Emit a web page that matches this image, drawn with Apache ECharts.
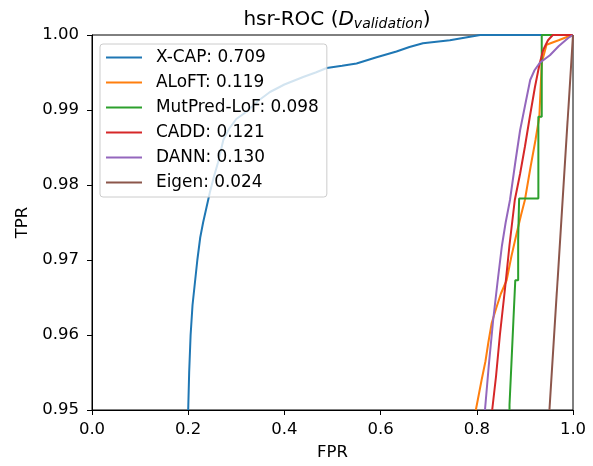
<!DOCTYPE html>
<html>
<head>
<meta charset="utf-8">
<script src="https://cdn.jsdelivr.net/npm/echarts@6/dist/echarts.min.js"></script>
<style>
  html, body { margin: 0; padding: 0; background: #fff; }
  #chart { width: 593px; height: 466px; }
</style>
</head>
<body>
<div id="chart"></div>
<script>
// ROC curves (fpr, tpr)
var xcapFpr = [0.200,0.202,0.205,0.209,0.214,0.219,0.225,0.231,0.238,0.245,0.253,0.262,0.273,0.285,0.300,0.322,0.345,0.370,0.400,0.439,0.465,0.488,0.520,0.550,0.590,0.633,0.660,0.688,0.744,0.780,0.807,1.000];
var xcapTpr = [0.950,0.955,0.960,0.964,0.967,0.970,0.973,0.975,0.977,0.979,0.981,0.983,0.986,0.9875,0.9888,0.9898,0.9912,0.9924,0.9934,0.9944,0.9950,0.9956,0.9959,0.9962,0.9970,0.9978,0.9984,0.9989,0.9993,0.9997,1.000,1.000];

var aloftFpr = [0.798,0.804,0.810,0.818,0.824,0.831,0.840,0.850,0.862,0.872,0.883,0.892,0.900,0.912,0.922,0.930,0.935,0.945,0.970,0.994,1.000];
var aloftTpr = [0.950,0.952,0.954,0.9565,0.959,0.9616,0.9635,0.9655,0.9673,0.9705,0.9736,0.9760,0.978,0.9825,0.9860,0.9891,0.9963,0.9987,0.9993,0.9999,1.000];

var mutpredFpr = [0.868,0.868,0.872,0.872,0.876,0.876,0.880,0.880,0.886,0.886,0.888,0.888,0.928,0.928,0.935,0.935,1.000];
var mutpredTpr = [0.950,0.9507,0.9507,0.9562,0.9562,0.9618,0.9618,0.9673,0.9673,0.9727,0.9727,0.9782,0.9782,0.9891,0.9891,1.000,1.000];

var caddFpr = [0.832,0.840,0.848,0.859,0.868,0.879,0.890,0.900,0.910,0.921,0.930,0.938,0.948,0.958,1.000];
var caddTpr = [0.950,0.9545,0.960,0.9664,0.9720,0.978,0.9815,0.9851,0.9890,0.9931,0.9960,0.998,0.9993,1.000,1.000];

var dannFpr = [0.817,0.825,0.834,0.843,0.852,0.860,0.869,0.880,0.890,0.900,0.911,0.920,0.931,0.952,0.970,0.990,1.000];
var dannTpr = [0.950,0.956,0.962,0.967,0.9718,0.975,0.978,0.9830,0.9873,0.9905,0.994,0.9953,0.9963,0.9973,0.9985,0.9996,1.000];

var eigenFpr = [0.951,1.000];
var eigenTpr = [0.950,1.000];

var names = ['X-CAP: 0.709','ALoFT: 0.119','MutPred-LoF: 0.098','CADD: 0.121','DANN: 0.130','Eigen: 0.024'];
var colors = ['#1f77b4','#ff7f0e','#2ca02c','#d62728','#9467bd','#8c564b'];
var curves = [[xcapFpr,xcapTpr],[aloftFpr,aloftTpr],[mutpredFpr,mutpredTpr],[caddFpr,caddTpr],[dannFpr,dannTpr],[eigenFpr,eigenTpr]];

function pairs(xs, ys) {
  return xs.map(function (x, i) { return [x, ys[i]]; });
}

var font = 'DejaVu Sans';
var fs = 16.5;
var chart = echarts.init(document.getElementById('chart'));

var series = curves.map(function (c, i) {
  return {
    name: names[i],
    type: 'line',
    data: pairs(c[0], c[1]),
    symbol: 'none',
    clip: true,
    color: colors[i],
    itemStyle: { color: colors[i] },
    lineStyle: { width: 2, color: colors[i] },
    animation: false
  };
});

chart.setOption({
  animation: false,
  title: {
    text: '{a|hsr-ROC (}{d|D}{s|validation}{a|)}',
    left: 332,
    textAlign: 'center',
    top: 4,
    textStyle: {
      fontWeight: 'normal',
      rich: {
        a: { fontFamily: font, fontSize: 20, fontWeight: 'normal', color: '#000' },
        d: { fontFamily: font, fontSize: 20, fontWeight: 'normal', fontStyle: 'italic', color: '#000' },
        s: { fontFamily: font, fontSize: 14, fontWeight: 'normal', fontStyle: 'italic', color: '#000', verticalAlign: 'bottom', padding: [8, 0, 0, 0] }
      }
    }
  },
  legend: {
    orient: 'vertical',
    left: 100,
    top: 44,
    data: names,
    icon: 'rect',
    itemWidth: 36,
    itemHeight: 2,
    itemGap: 6,
    padding: [4, 8, 5, 6],
    backgroundColor: 'rgba(255,255,255,0.8)',
    borderColor: '#cccccc',
    borderWidth: 1,
    borderRadius: 3,
    textStyle: { fontFamily: font, fontSize: 16.9, color: '#000', lineHeight: 19, padding: [0, 0, 0, 9] }
  },
  grid: {
    left: 92, right: 20, top: 35, bottom: 56,
    show: true, borderColor: '#000', borderWidth: 1, backgroundColor: 'transparent'
  },
  xAxis: {
    type: 'value', min: 0, max: 1, interval: 0.2,
    name: 'FPR', nameLocation: 'middle', nameGap: 34,
    nameTextStyle: { fontFamily: font, fontSize: fs, color: '#000' },
    axisLine: { show: true, lineStyle: { color: '#000', width: 1 } },
    axisTick: { show: true, length: 5, lineStyle: { color: '#000' } },
    axisLabel: { fontFamily: font, fontSize: fs, color: '#000', margin: 11,
      formatter: function (v) { return v.toFixed(1); } },
    splitLine: { show: false }
  },
  yAxis: {
    type: 'value', min: 0.95, max: 1.0, interval: 0.01,
    name: 'TPR', nameLocation: 'middle', nameGap: 60,
    nameTextStyle: { fontFamily: font, fontSize: fs, color: '#000' },
    axisLine: { show: true, lineStyle: { color: '#000', width: 1 } },
    axisTick: { show: true, length: 5, lineStyle: { color: '#000' } },
    axisLabel: { fontFamily: font, fontSize: fs, color: '#000', margin: 13,
      formatter: function (v) { return v.toFixed(2); } },
    splitLine: { show: false }
  },
  series: series
});
</script>
</body>
</html>
